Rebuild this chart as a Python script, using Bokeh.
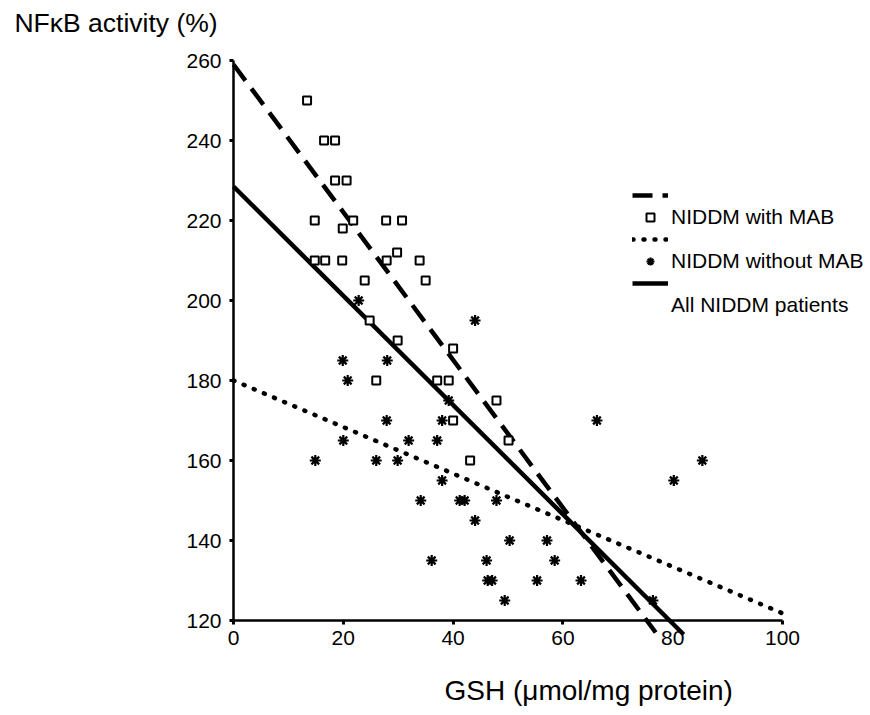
from bokeh.plotting import figure
from bokeh.models import Range1d, Legend, LegendItem, Label, FixedTicker
from bokeh.embed import file_html
from bokeh.resources import INLINE

FONT = "Liberation Sans"

# NIDDM with MAB (open squares)
mab_x = [13.4, 16.5, 18.5, 18.5, 20.6, 14.8, 21.8, 27.8, 30.7, 19.9, 29.8,
         14.8, 16.7, 19.8, 27.9, 33.9, 23.9, 35.0, 24.8, 29.9, 40.0, 26.0,
         37.1, 39.2, 47.9, 40.0, 50.1, 43.1]
mab_y = [250, 240, 240, 230, 230, 220, 220, 220, 220, 218, 212,
         210, 210, 210, 210, 210, 205, 205, 195, 190, 188, 180,
         180, 180, 175, 170, 165, 160]

# NIDDM without MAB (asterisks)
nomab_x = [22.8, 44.0, 19.9, 28.0, 20.8, 39.2, 27.9, 38.0, 66.2, 20.0, 31.9,
           37.1, 14.9, 26.0, 29.9, 85.4, 38.0, 80.2, 34.1, 41.2, 42.1, 47.9,
           44.0, 50.3, 57.1, 36.1, 46.1, 58.5, 46.3, 47.1, 55.3, 63.3, 49.4, 76.4]
nomab_y = [200, 195, 185, 185, 180, 175, 170, 170, 170, 165, 165,
           165, 160, 160, 160, 160, 155, 155, 150, 150, 150, 150,
           145, 140, 140, 135, 135, 135, 130, 130, 130, 130, 125, 125]

# Regression lines (end points)
mab_line_x = [0, 76.9]
mab_line_y = [259, 117]
nomab_line_x = [0, 100.5]
nomab_line_y = [180, 121.5]
all_line_x = [0, 82.0]
all_line_y = [228.5, 116.5]

x_ticks = [0, 20, 40, 60, 80, 100]
y_ticks = [120, 140, 160, 180, 200, 220, 240, 260]
x_bounds = (0, 100)
y_bounds = (120, 260)

# frame covers the whole canvas; axes are fixed at x=0 / y=120
p = figure(width=866, height=712, output_backend="svg", toolbar_location=None,
           x_range=Range1d(-42.44, 115.3), y_range=Range1d(97.0, 275.0),
           min_border=0, min_border_left=0, min_border_right=0,
           min_border_top=0, min_border_bottom=0)
p.outline_line_color = None
p.grid.visible = False
p.background_fill_color = "white"
p.border_fill_color = "white"

xa = p.xaxis[0]
ya = p.yaxis[0]
xa.fixed_location = y_bounds[0]
ya.fixed_location = x_bounds[0]
xa.bounds = x_bounds
ya.bounds = y_bounds
for ax in (xa, ya):
    ax.axis_line_width = 2.5
    ax.axis_line_color = "black"
    ax.major_tick_in = 0
    ax.major_tick_out = 4
    ax.major_tick_line_width = 3
    ax.minor_tick_line_color = None
    ax.major_label_text_font = FONT
    ax.major_label_text_font_size = "21px"
    ax.major_label_text_color = "black"

xa.ticker = FixedTicker(ticks=x_ticks)
ya.ticker = FixedTicker(ticks=y_ticks)
xa.major_label_standoff = 6
ya.major_label_standoff = 8

r_dash = p.line(mab_line_x, mab_line_y, line_color="black", line_width=4.5,
                line_dash="20 10")
r_dot = p.line(nomab_line_x, nomab_line_y, line_color="black", line_width=4.5,
               line_dash="1 10", line_cap="round")
r_solid = p.line(all_line_x, all_line_y, line_color="black", line_width=4.5)

r_sq = p.scatter(mab_x, mab_y, marker="square", size=8, fill_color="white",
                 line_color="black", line_width=2)
r_st = p.scatter(nomab_x, nomab_y, marker="asterisk", size=11,
                 line_color="black", line_width=2.2)

legend = Legend(items=[
    LegendItem(label="", renderers=[r_dash]),
    LegendItem(label="NIDDM with MAB", renderers=[r_sq]),
    LegendItem(label="", renderers=[r_dot]),
    LegendItem(label="NIDDM without MAB", renderers=[r_st]),
    LegendItem(label="", renderers=[r_solid]),
    LegendItem(label="All NIDDM patients", renderers=[]),
], location=(632, 395), orientation="vertical",
    background_fill_alpha=0, border_line_alpha=0,
    padding=0, margin=0, spacing=0,
    glyph_width=36, glyph_height=20, label_height=20, label_standoff=3,
    label_text_font=FONT, label_text_font_size="21px", label_text_color="black")
p.add_layout(legend)

p.add_layout(Label(x=-39.9, y=269.5, text="NF\u03baB activity (%)",
                   text_font=FONT, text_font_size="26.5px", text_align="left",
                   text_baseline="middle", text_color="black"))
p.add_layout(Label(x=64.7, y=102.5, text="GSH (\u03bcmol/mg protein)",
                   text_font=FONT, text_font_size="28px", text_align="center",
                   text_baseline="middle", text_color="black"))

open("out.html", "w").write(file_html(p, INLINE))
